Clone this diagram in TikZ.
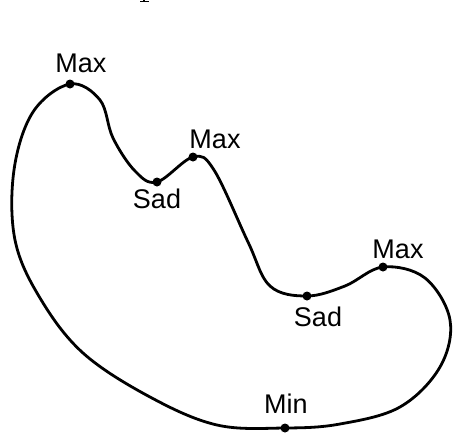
\documentclass[tikz,border=0pt]{standalone}
\usepackage{fontspec}
\setmainfont{Liberation Sans}
\begin{document}
\begin{tikzpicture}[x=1pt,y=-1pt,
  curve/.style={line width=2.8pt,line join=round,line cap=round},
  critdot/.style={circle,fill=black,inner sep=0pt,minimum size=9pt},
  lbl/.style={font=\fontsize{27}{27}\selectfont,inner sep=0pt}]
\useasboundingbox (0,0) rectangle (453,434);
% critical points
\node[critdot] (max1) at (70,84) {};
\node[critdot] (sad1) at (157,182) {};
\node[critdot] (max2) at (193,157) {};
\node[critdot] (sad2) at (307,296) {};
\node[critdot] (max3) at (383,267) {};
\node[critdot] (min) at (285,428) {};
% labels
\node[lbl] (lmax1) at (81,63) {Max};
\node[lbl] (lsad1) at (157,199) {Sad};
\node[lbl] (lmax2) at (215,139) {Max};
\node[lbl] (lsad2) at (318,317) {Sad};
\node[lbl] (lmax3) at (398,249) {Max};
\node[lbl] (lmin) at (286,404) {Min};
% outline
\draw[curve] plot[smooth cycle,tension=0.6] coordinates {
(70,84) (100,100) (113,138) (135,171) (157,182)
(193,157) (214,170) (248,242) (270,286) (307,296)
(345,286) (383,267) (425,278) (450,320) (440,367)
(400,407) (340,424) (285,428) (217,425) (150,397)
(83,353) (40,298) (15,240) (14,170) (33,112)};
% fragment at top edge
\draw[line width=1.6pt] (140,1.6) -- (149,1.6);
\draw[line width=1.6pt] (144,0) -- (144,1.6);
\end{tikzpicture}
\end{document}
